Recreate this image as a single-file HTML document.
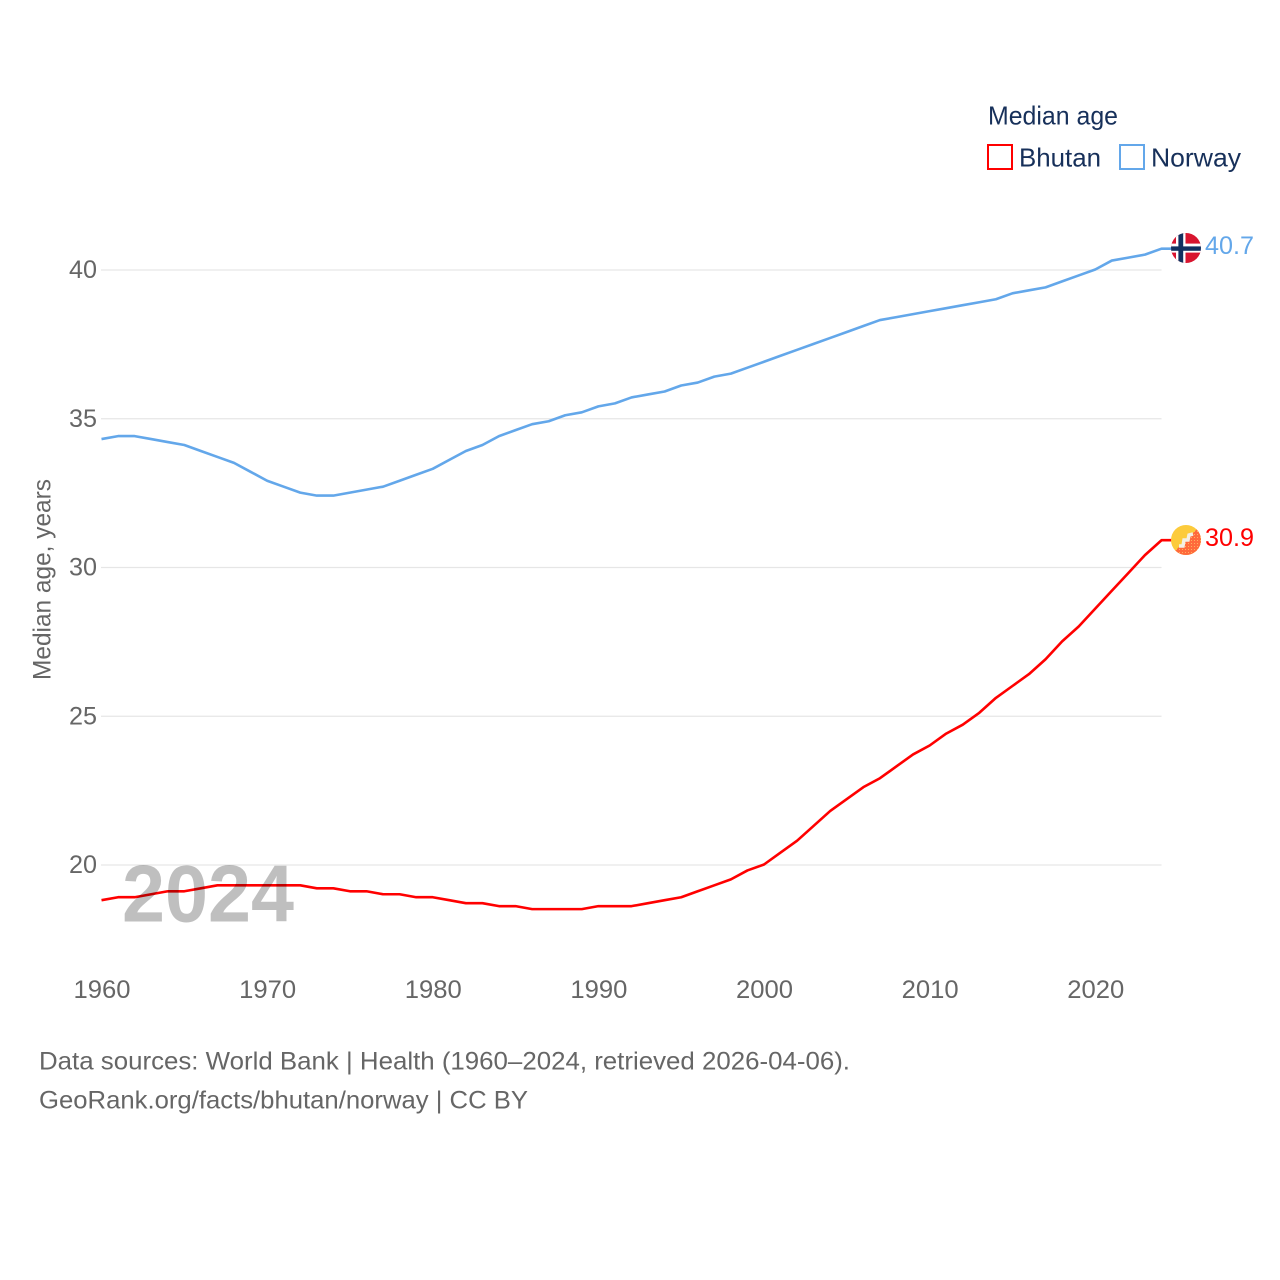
<!DOCTYPE html>
<html lang="en">
<head>
<meta charset="utf-8">
<title>Median age: Bhutan and Norway</title>
<style>
html,body{margin:0;padding:0;background:#fff;}
svg{display:block;}
text{font-family:"Liberation Sans",sans-serif;}
</style>
</head>
<body>
<svg id="chart" xmlns="http://www.w3.org/2000/svg" width="1280" height="1280" viewBox="0 0 1280 1280">
  <defs>
    <clipPath id="flag-clip-no"><circle cx="1186" cy="248" r="15"/></clipPath>
    <clipPath id="flag-clip-bt"><circle cx="1186" cy="540" r="15"/></clipPath>
    <pattern id="bt-dots" width="3" height="3" patternUnits="userSpaceOnUse">
      <rect width="3" height="3" fill="#ff6a3c"/>
      <rect width="1" height="1" fill="#ffb060"/>
    </pattern>
  </defs>
  <rect width="1280" height="1280" fill="#fff"/>
  <g id="grid"></g>
  <g id="yticks"></g>
  <g id="xticks"></g>
  <text transform="translate(50.5,680) rotate(-90)" font-size="25" fill="#666" textLength="201" lengthAdjust="spacingAndGlyphs">Median age, years</text>
  <g id="series"></g>
  <text x="122" y="921.5" font-size="81" font-weight="700" fill="#000" fill-opacity="0.25" textLength="172" lengthAdjust="spacingAndGlyphs">2024</text>

  <g clip-path="url(#flag-clip-no)">
    <rect x="1171" y="233" width="30" height="30" fill="#d8152f"/>
    <rect x="1176" y="233" width="9.5" height="30" fill="#fff"/>
    <rect x="1171" y="243.6" width="30" height="9" fill="#fff"/>
    <rect x="1178.4" y="233" width="4.8" height="30" fill="#12305f"/>
    <rect x="1171" y="246.4" width="30" height="4.4" fill="#12305f"/>
  </g>
  <g clip-path="url(#flag-clip-bt)">
    <rect x="1171" y="525" width="30" height="30" fill="#fccb3c"/>
    <polygon points="1201,525 1201,555 1171,555" fill="url(#bt-dots)"/>
    <polyline points="1179,546 1183,546 1184,540 1188,540 1189,535 1193,534" fill="none" stroke="#f4efe4" stroke-width="3.5"/>
  </g>
  <text x="1205" y="254" font-size="25" fill="#63a7ea" textLength="49" lengthAdjust="spacingAndGlyphs">40.7</text>
  <text x="1205" y="546" font-size="25" fill="#ff0000" textLength="49" lengthAdjust="spacingAndGlyphs">30.9</text>

  <text x="988" y="124.5" font-size="26" fill="#17305a" textLength="130" lengthAdjust="spacingAndGlyphs">Median age</text>
  <g>
    <rect x="988" y="145" width="24" height="24" fill="none" stroke="#ff0000" stroke-width="2"/>
    <text x="1019" y="166.5" font-size="26" fill="#17305a" textLength="82" lengthAdjust="spacingAndGlyphs">Bhutan</text>
  </g>
  <g>
    <rect x="1120" y="145" width="24" height="24" fill="none" stroke="#63a7ea" stroke-width="2"/>
    <text x="1151" y="166.5" font-size="26" fill="#17305a" textLength="90" lengthAdjust="spacingAndGlyphs">Norway</text>
  </g>

  <text x="39" y="1069.5" font-size="25" fill="#666" textLength="811" lengthAdjust="spacingAndGlyphs">Data sources: World Bank | Health (1960–2024, retrieved 2026-04-06).</text>
  <text x="39" y="1108.5" font-size="25" fill="#666" textLength="489" lengthAdjust="spacingAndGlyphs">GeoRank.org/facts/bhutan/norway | CC BY</text>
</svg>
<script>
const startYear = 1960;
const xTickLabels = [1960, 1970, 1980, 1990, 2000, 2010, 2020];
const yTickLabels = [20, 25, 30, 35, 40];
const norwayValues = [34.3,34.4,34.4,34.3,34.2,34.1,33.9,33.7,33.5,33.2,32.9,32.7,32.5,32.4,32.4,32.5,32.6,32.7,32.9,33.1,33.3,33.6,33.9,34.1,34.4,34.6,34.8,34.9,35.1,35.2,35.4,35.5,35.7,35.8,35.9,36.1,36.2,36.4,36.5,36.7,36.9,37.1,37.3,37.5,37.7,37.9,38.1,38.3,38.4,38.5,38.6,38.7,38.8,38.9,39.0,39.2,39.3,39.4,39.6,39.8,40.0,40.3,40.4,40.5,40.7];
const bhutanValues = [18.8,18.9,18.9,19.0,19.1,19.1,19.2,19.3,19.3,19.3,19.3,19.3,19.3,19.2,19.2,19.1,19.1,19.0,19.0,18.9,18.9,18.8,18.7,18.7,18.6,18.6,18.5,18.5,18.5,18.5,18.6,18.6,18.6,18.7,18.8,18.9,19.1,19.3,19.5,19.8,20.0,20.4,20.8,21.3,21.8,22.2,22.6,22.9,23.3,23.7,24.0,24.4,24.7,25.1,25.6,26.0,26.4,26.9,27.5,28.0,28.6,29.2,29.8,30.4,30.9];

const NS = 'http://www.w3.org/2000/svg';
function xPos(year) { return 101.5 + (year - 1960) * (1161.5 - 101.5) / 64; }
function yPos(v) { return 270 + (40 - v) * (865 - 270) / 20; }
function mk(tag, attrs, parent) {
  const el = document.createElementNS(NS, tag);
  for (const k in attrs) el.setAttribute(k, attrs[k]);
  parent.appendChild(el);
  return el;
}
const gridG = document.getElementById('grid');
const yG = document.getElementById('yticks');
const xG = document.getElementById('xticks');
const seriesG = document.getElementById('series');

yTickLabels.forEach(function (v) {
  const line = mk('line', {x1: 101, x2: 1161.5, y1: yPos(v), y2: yPos(v), stroke: '#e6e6e6', 'stroke-width': 1.2}, gridG);
  
  
  const t = mk('text', {x: 97, y: yPos(v) + 8, 'text-anchor': 'end', 'font-size': 25, fill: '#666', textLength: 28, lengthAdjust: 'spacingAndGlyphs'}, yG);
  
  
  t.textContent = v;
});
xTickLabels.forEach(function (y) {
  const t = mk('text', {x: xPos(y) - 28, y: 998, 'font-size': 25, fill: '#666', textLength: 57, lengthAdjust: 'spacingAndGlyphs'}, xG);
  
  
  t.textContent = y;
});
function drawSeries(values, color, name) {
  let d = '';
  values.forEach(function (v, i) {
    d += (i ? 'L' : 'M') + xPos(startYear + i).toFixed(2) + ' ' + (yPos(v) - 0.5).toFixed(2);
  });
  const last = values[values.length - 1];
  d += 'L1172 ' + (yPos(last) - 0.5).toFixed(2);
  const p = mk('path', {d: d, fill: 'none', stroke: color, 'stroke-width': 2.6, 'stroke-linejoin': 'round'}, seriesG);
  
  
}
drawSeries(norwayValues, '#63a7ea', 'norway-line');
drawSeries(bhutanValues, '#ff0000', 'bhutan-line');
</script>
</body>
</html>
